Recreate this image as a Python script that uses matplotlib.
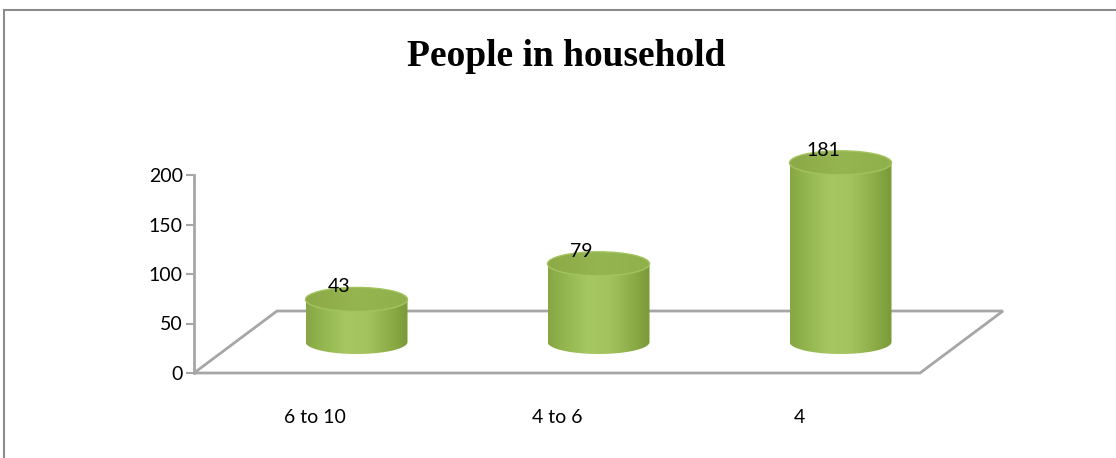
"""People in household: Excel-style 3D cylinder chart, faked in 2D."""
import matplotlib

matplotlib.use("Agg")
import matplotlib.pyplot as plt
import numpy as np
from matplotlib.colors import LinearSegmentedColormap
from matplotlib.lines import Line2D
from matplotlib.patches import Ellipse, PathPatch, Polygon
from matplotlib.path import Path

categories = ["6 to 10", "4 to 6", "4"]
values = [43, 79, 181]
yticks = [0, 50, 100, 150, 200]
title = "People in household"

W, H = 1116, 458
fig = plt.figure(figsize=(W / 100, H / 100), dpi=100)

# axes = front plane of the 3D box (pixel bounds)
x0, x1, y0, y1 = 194, 920, 373, 175
ax = fig.add_axes([x0 / W, 1 - y0 / H, (x1 - x0) / W, (y0 - y1) / H])
ax.set_xlim(-0.5, len(categories) - 0.5)
ax.set_ylim(0, 200)
ax.patch.set_visible(False)

px_x = (len(categories)) / (x1 - x0)   # data units per px, x
px_y = 200 / (y0 - y1)                 # data units per px, y
dx, dy = 83 * px_x, 62 * px_y          # depth offset of the floor
grey = "#a6a6a6"

# floor parallelogram
xl, xr = -0.5, len(categories) - 0.5
floor = Polygon([(xl, 0), (xl + dx, dy), (xr + dx, dy), (xr, 0)], closed=True,
                fill=False, edgecolor=grey, lw=2, clip_on=False, zorder=1)
ax.add_patch(floor)

for s in ["top", "right", "bottom"]:
    ax.spines[s].set_visible(False)
ax.spines["left"].set_color(grey)
ax.spines["left"].set_linewidth(2)
ax.set_yticks(yticks)
ax.tick_params(axis="y", length=6, width=1.5, color=grey, pad=2, labelsize=14)
ax.set_xticks(range(len(categories)))
ax.set_xticklabels(categories)
ax.tick_params(axis="x", length=0, pad=26, labelsize=14)
for lab in ax.get_xticklabels() + ax.get_yticklabels():
    lab.set_fontfamily("Lato")

body_cmap = LinearSegmentedColormap.from_list(
    "body", ["#86a744", "#97b952", "#a6c761", "#a2c35d", "#8fb04a", "#799a37"])
top_cmap = LinearSegmentedColormap.from_list(
    "top", ["#8caa47", "#95b550", "#90b04b"])
grad = np.linspace(0, 1, 256).reshape(1, -1)

r = 51 * px_x          # cylinder half-width
eh = 24 * px_y         # ellipse height
for i, v in enumerate(values):
    cx = i + dx / 2
    base = dy / 2
    top = base + v
    t = np.linspace(np.pi, 2 * np.pi, 60)
    verts = [(cx - r, top), (cx - r, base)]
    verts += [(cx + r * np.cos(a), base + eh / 2 * np.sin(a)) for a in t]
    verts += [(cx + r, top), (cx - r, top)]
    body = PathPatch(Path(verts), facecolor="none", edgecolor="none", clip_on=False)
    ax.add_patch(body)
    im = ax.imshow(grad, cmap=body_cmap, aspect="auto", zorder=3,
                   extent=(cx - r, cx + r, base - eh, top + eh))
    im.set_clip_box(fig.bbox)
    im.set_clip_path(body)
    cap = Ellipse((cx, top), 2 * r, eh, facecolor="none", edgecolor="none",
                  clip_on=False)
    ax.add_patch(cap)
    im2 = ax.imshow(grad, cmap=top_cmap, aspect="auto", zorder=4,
                    extent=(cx - r, cx + r, top - eh, top + eh))
    im2.set_clip_box(fig.bbox)
    im2.set_clip_path(cap)
    ax.add_patch(Ellipse((cx, top), 2 * r, eh, facecolor="none",
                         edgecolor="#a3c35e", lw=1, zorder=5, clip_on=False))
    ax.text(i + 0.1, v + 44, str(v), ha="center", va="center", fontsize=14,
            family="Lato", zorder=6)

# restore limits changed by imshow
ax.set_xlim(-0.5, len(categories) - 0.5)
ax.set_ylim(0, 200)

fig.text(566 / W, 1 - 56 / H, title, ha="center", va="center", fontsize=27,
         fontweight="bold", family="Liberation Serif")

# chart frame (top and left edges visible in the crop)
fig.add_artist(Line2D([4 / W, 1], [1 - 10 / H, 1 - 10 / H], color="#8c8c8c", lw=1.5))
fig.add_artist(Line2D([4 / W, 4 / W], [0, 1 - 10 / H], color="#8c8c8c", lw=1.5))

fig.savefig("out.png", dpi=100)
